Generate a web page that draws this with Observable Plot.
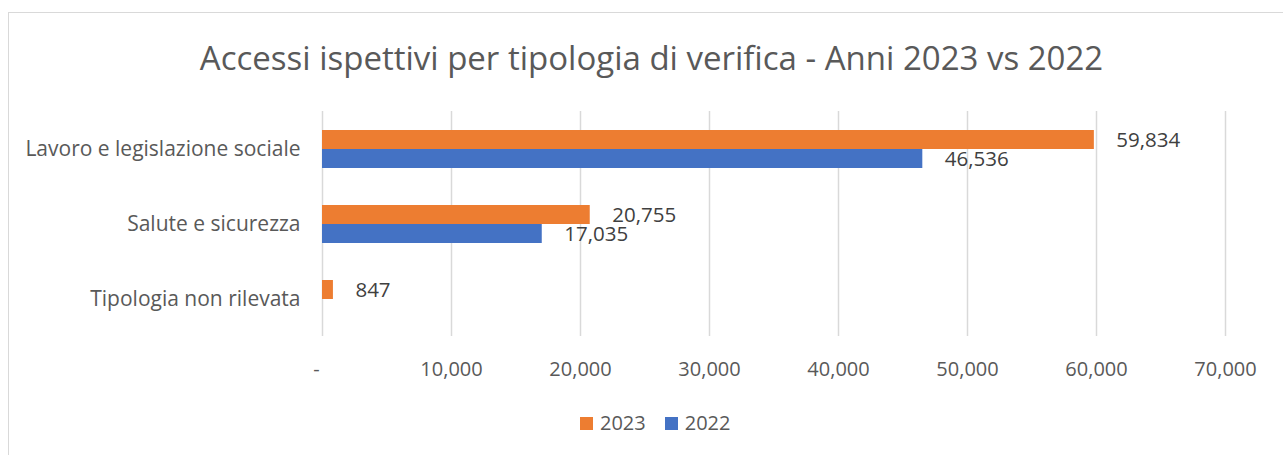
<!DOCTYPE html>
<html>
<head>
<meta charset="utf-8">
<script src="https://cdn.jsdelivr.net/npm/d3@7"></script>
<script src="https://cdn.jsdelivr.net/npm/@observablehq/plot@0.6"></script>
<style>
  html, body { margin: 0; padding: 0; background: #fff; }
  body { width: 1283px; height: 455px; position: relative; overflow: hidden; font-family: "Open Sans", sans-serif; }
  #frame { position: absolute; left: 8px; top: 12px; width: 1300px; height: 460px; border: 1.5px solid #d9d9d9; box-sizing: border-box; }
  #title { position: absolute; left: 0; width: 1303px; top: 35px; text-align: center; font-size: 33px; color: #595959; line-height: 46px; white-space: nowrap; }
  #chart { position: absolute; left: 0; top: 100px; }
  #legend { position: absolute; top: 409px; left: 580px; display: flex; align-items: center; font-size: 20px; color: #595959; line-height: 28px; }
  .sw { display: inline-block; width: 13px; height: 13px; margin-right: 7px; }
  .item { display: flex; align-items: center; margin-right: 19px; }
</style>
</head>
<body>
<div id="frame"></div>
<div id="title">Accessi ispettivi per tipologia di verifica - Anni 2023 vs 2022</div>
<div id="chart"></div>
<div id="legend"></div>
<script>
const categories = ["Lavoro e legislazione sociale", "Salute e sicurezza", "Tipologia non rilevata"];
const years = ["2023", "2022"];
const values2023 = [59834, 20755, 847];
const values2022 = [46536, 17035, null];
const xTicks = [0, 10000, 20000, 30000, 40000, 50000, 60000, 70000];
const colors = ["#ED7D31", "#4472C4"];

const rows = [];
categories.forEach((c, i) => {
  if (values2023[i] != null) rows.push({category: c, year: "2023", value: values2023[i]});
  if (values2022[i] != null) rows.push({category: c, year: "2022", value: values2022[i]});
});

const fmt = d3.format(",");

const chart = Plot.plot({
  width: 1283,
  height: 282,
  marginTop: 10,
  marginBottom: 45,
  marginLeft: 322,
  marginRight: 58,
  style: {fontFamily: "'Open Sans', sans-serif", fontSize: "20px", color: "#595959", background: "transparent"},
  x: {domain: [0, 70000]},
  y: {domain: years, paddingInner: 0, paddingOuter: 0.89},
  fy: {domain: categories, padding: 0},
  color: {domain: years, range: colors},
  marks: [
    Plot.gridX(xTicks, {stroke: "#d9d9d9", strokeOpacity: 1, strokeWidth: 1.5}),
    Plot.barX(rows, {x: "value", y: "year", fy: "category", fill: "year"}),
    Plot.text(rows, {x: "value", y: "year", fy: "category", text: d => fmt(d.value), textAnchor: "start", dx: 22, fill: "#404040", fontSize: 20.5}),
    Plot.axisX(xTicks.filter(t => t !== 0), {tickSize: 0, tickPadding: 25, tickFormat: d => fmt(d), fontSize: 20, fill: "#595959", label: null}),
    Plot.axisX([0], {tickSize: 0, tickPadding: 25, tickFormat: () => "-", dx: -6, fontSize: 20, fill: "#595959", label: null}),
    Plot.axisY({ticks: [], tickSize: 0, label: null}),
    Plot.axisFy({anchor: "left", tickSize: 0, tickPadding: 22, fontSize: 21, fill: "#595959", label: null})
  ]
});
document.getElementById("chart").appendChild(chart);

const legend = document.getElementById("legend");
years.forEach((y, i) => {
  const item = document.createElement("div");
  item.className = "item";
  const sw = document.createElement("span");
  sw.className = "sw";
  sw.style.background = colors[i];
  item.appendChild(sw);
  item.appendChild(document.createTextNode(y));
  legend.appendChild(item);
});
</script>
</body>
</html>
